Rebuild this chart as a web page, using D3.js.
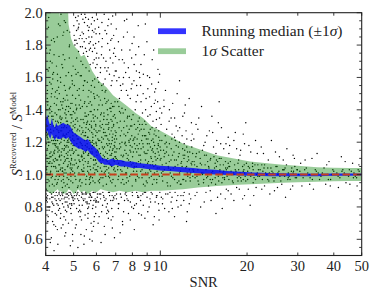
<!DOCTYPE html>
<html>
<head>
<meta charset="utf-8">
<script src="https://cdn.jsdelivr.net/npm/d3@7"></script>
<style>
  body { margin: 0; background: #fff; }
  svg { display: block; }
  text { font-family: "Liberation Serif", "DejaVu Serif", serif; fill: #222; }
</style>
</head>
<body>
<svg id="chart" width="374" height="295"></svg>
<script>
// ---- data ----
const xTicks = [4, 5, 6, 7, 8, 9, 10, 20, 30, 40, 50];
const yTicks = [0.6, 0.8, 1.0, 1.2, 1.4, 1.6, 1.8, 2.0];

// 1 sigma scatter band (green)
const bandSNR   = [4.0, 4.2, 4.4, 4.48, 4.52, 4.6, 4.74, 4.8, 4.9, 5.0, 5.1, 5.18, 5.3, 5.45, 5.6, 5.8, 6.0, 6.2, 6.5, 6.85, 7.2, 7.7, 8.2, 8.7, 9.3, 10, 11, 12, 13.5, 15.7, 18, 20.5, 23.5, 26.6, 30, 35, 40, 45, 50];
const bandHigh  = [2.30, 2.30, 2.25, 1.97, 2.20, 2.25, 2.30, 1.93, 1.84, 1.80, 1.78, 1.77, 1.73, 1.74, 1.70, 1.64, 1.60, 1.57, 1.54, 1.49, 1.46, 1.42, 1.38, 1.35, 1.30, 1.27, 1.23, 1.19, 1.16, 1.12, 1.10, 1.08, 1.07, 1.06, 1.055, 1.045, 1.042, 1.04, 1.04];
const bandLow   = [0.90, 0.88, 0.91, 0.89, 0.90, 0.88, 0.89, 0.91, 0.90, 0.88, 0.89, 0.91, 0.89, 0.90, 0.88, 0.90, 0.89, 0.91, 0.90, 0.89, 0.90, 0.89, 0.90, 0.89, 0.90, 0.90, 0.905, 0.91, 0.92, 0.93, 0.935, 0.94, 0.945, 0.95, 0.952, 0.955, 0.958, 0.96, 0.96];

// running median +- 1 sigma (blue)
const medSNR  = [4.0, 4.05, 4.1, 4.15, 4.2, 4.25, 4.3, 4.35, 4.4, 4.5, 4.6, 4.7, 4.8, 4.9, 5.0, 5.1, 5.2, 5.3, 5.4, 5.5, 5.6, 5.7, 5.8, 5.9, 6.0, 6.1, 6.2, 6.3, 6.4, 6.6, 6.8, 7.0, 7.3, 7.6, 8.0, 8.5, 9.0, 9.5, 10, 11, 12, 13, 14, 15.5, 17, 19, 21, 24, 27, 30, 35, 40, 45, 50];
const medLow  = [1.25, 1.27, 1.24, 1.22, 1.25, 1.23, 1.21, 1.23, 1.22, 1.22, 1.23, 1.22, 1.23, 1.20, 1.18, 1.17, 1.16, 1.16, 1.15, 1.14, 1.15, 1.13, 1.12, 1.11, 1.10, 1.08, 1.07, 1.07, 1.06, 1.06, 1.05, 1.06, 1.05, 1.05, 1.04, 1.04, 1.035, 1.03, 1.025, 1.02, 1.015, 1.01, 1.005, 1.0, 0.998, 0.995, 0.993, 0.99, 0.99, 0.99, 0.99, 0.992, 0.993, 0.994];
const medHigh = [1.34, 1.37, 1.33, 1.30, 1.35, 1.31, 1.29, 1.32, 1.30, 1.31, 1.32, 1.31, 1.31, 1.29, 1.26, 1.25, 1.24, 1.23, 1.22, 1.21, 1.22, 1.20, 1.18, 1.17, 1.16, 1.14, 1.12, 1.10, 1.10, 1.09, 1.10, 1.09, 1.09, 1.08, 1.08, 1.07, 1.065, 1.06, 1.055, 1.05, 1.045, 1.04, 1.035, 1.03, 1.022, 1.018, 1.013, 1.01, 1.008, 1.006, 1.005, 1.006, 1.006, 1.006];

const refLine = 1.0;

// individual sources: "SNR ratio" pairs (estimated from the cloud)
const sourcesRaw = `
4.03 1.12,4.07 1.45,4.11 0.96,4.02 1.78,4.15 1.31,4.19 1.05,4.23 1.62,4.05 1.23,4.28 0.93,4.31 1.38,4.09 1.91,4.35 1.17,4.38 1.52,4.14 1.08,4.42 1.27,4.46 0.99,4.21 1.69,4.49 1.36,4.53 1.14,4.26 1.84,4.57 1.02,4.61 1.47,4.33 1.21,4.64 1.95,4.68 1.09,4.72 1.33,4.40 1.58,4.75 0.94,4.79 1.26,4.83 1.72,4.47 1.11,4.87 1.41,4.91 1.03,4.55 1.29,4.95 1.56,4.98 1.18,4.60 0.97,4.01 1.34,4.13 1.57,4.24 1.19,4.36 1.43,4.44 1.06,4.58 1.66,4.66 1.24,4.77 1.12,4.85 1.88,4.93 1.37,4.04 1.01,4.17 1.26,4.29 1.82,4.39 0.95,4.51 1.32,4.63 1.15,4.74 1.49,4.88 1.07,4.96 1.22,4.08 1.64,4.20 1.39,4.32 1.10,4.45 1.73,4.56 1.00,4.69 1.40,4.81 1.20,4.92 1.61,4.06 1.28,4.18 0.98,4.30 1.48,4.41 1.16,4.52 1.99,4.65 1.30,4.76 1.05,4.89 1.44,4.99 1.13,4.10 1.20,4.22 1.53,4.34 1.04,4.48 1.35,4.59 1.86,4.70 1.17,4.82 0.92,4.94 1.28,4.12 1.75,4.25 1.09,4.37 1.30,4.50 1.60,4.62 0.99,4.73 1.25,4.86 1.54,4.97 1.06,4.16 1.42,4.27 1.14,4.43 1.93,4.54 1.22,4.67 1.46,4.78 1.10,4.90 1.32,4.02 0.91,4.13 1.07,4.24 1.36,4.36 1.67,4.47 1.19,4.58 1.02,4.71 1.37,4.84 1.80,4.95 1.16,4.07 1.25,4.19 1.50,4.31 0.97,4.43 1.23,4.55 1.43,4.66 1.08,4.80 1.63,4.91 1.27,4.04 1.40,4.15 1.70,4.28 1.13,4.40 1.33,4.52 1.04,4.64 1.55,4.77 1.21,4.89 0.96,4.99 1.39,
4.03 0.86,4.11 0.78,4.19 0.88,4.27 0.69,4.35 0.84,4.42 0.81,4.50 0.73,4.58 0.87,4.66 0.62,4.74 0.83,4.82 0.89,4.90 0.76,4.97 0.85,4.07 0.71,4.15 0.58,4.23 0.82,4.31 0.87,4.39 0.66,4.47 0.79,4.55 0.85,4.63 0.74,4.71 0.88,4.79 0.80,4.87 0.56,4.94 0.86,4.05 0.83,4.21 0.77,4.45 0.89,4.69 0.72,4.92 0.82,
5.02 1.14,5.05 1.38,5.09 0.97,5.12 1.72,5.15 1.22,5.19 1.05,5.22 1.49,5.25 1.30,5.29 0.93,5.32 1.61,5.35 1.11,5.39 1.27,5.42 1.02,5.45 1.44,5.49 1.18,5.52 1.66,5.55 0.99,5.59 1.33,5.62 1.08,5.65 1.52,5.69 1.21,5.72 0.95,5.75 1.39,5.79 1.13,5.82 1.58,5.85 1.04,5.89 1.28,5.92 1.47,5.95 1.09,5.98 1.20,5.03 1.55,5.07 1.25,5.11 1.07,5.14 1.35,5.18 1.63,5.21 1.12,5.24 0.96,5.28 1.41,5.31 1.19,5.34 1.29,5.38 1.68,5.41 1.06,5.44 1.24,5.48 1.36,5.51 0.94,5.54 1.15,5.58 1.57,5.61 1.23,5.64 1.01,5.68 1.31,5.71 1.45,5.74 1.10,5.78 1.26,5.81 0.98,5.84 1.37,5.88 1.17,5.91 1.54,5.94 1.03,5.97 1.30,5.04 1.01,5.08 1.47,5.13 1.19,5.17 1.28,5.20 1.76,5.26 1.08,5.30 1.34,5.36 1.16,5.40 1.52,5.46 1.00,5.50 1.26,5.56 1.42,5.60 1.12,5.66 1.64,5.70 1.05,5.76 1.33,5.80 1.20,5.86 1.09,5.90 1.40,5.96 1.24,5.06 1.31,5.16 0.92,5.27 1.20,5.37 1.09,5.47 1.58,5.57 1.17,5.67 0.97,5.77 1.29,5.87 1.50,5.99 1.07,5.10 1.62,5.23 1.43,5.33 1.03,5.43 1.32,5.53 1.21,5.63 1.37,5.73 1.14,5.83 1.23,5.93 0.95,
5.03 0.87,5.12 0.79,5.21 0.84,5.30 0.63,5.39 0.88,5.48 0.75,5.57 0.82,5.66 0.86,5.75 0.70,5.84 0.81,5.93 0.89,5.07 0.67,5.16 0.85,5.25 0.78,5.34 0.89,5.43 0.57,5.52 0.83,5.61 0.76,5.70 0.88,5.79 0.65,5.88 0.84,5.97 0.80,
5.02 1.86,5.08 1.97,5.14 1.81,5.22 1.93,5.28 1.79,5.35 1.88,5.41 1.75,5.47 1.99,5.53 1.84,5.60 1.73,5.66 1.91,5.72 1.78,5.78 1.85,5.84 1.69,5.90 1.95,5.96 1.66,5.18 1.90,5.44 1.82,5.63 1.96,5.81 1.76,5.88 1.88,5.99 1.72,
6.02 1.12,6.05 1.35,6.09 0.96,6.12 1.48,6.16 1.21,6.19 1.04,6.23 1.29,6.26 1.55,6.30 1.10,6.33 0.93,6.37 1.38,6.40 1.17,6.44 1.02,6.47 1.44,6.51 1.24,6.54 1.08,6.58 1.31,6.61 0.99,6.65 1.19,6.68 1.41,6.72 1.06,6.75 1.27,6.79 0.95,6.82 1.15,6.86 1.36,6.89 1.03,6.93 1.22,6.96 1.45,6.99 1.11,6.03 1.26,6.07 1.05,6.11 1.57,6.14 1.16,6.18 1.33,6.22 0.98,6.25 1.20,6.29 1.43,6.32 1.09,6.36 1.28,6.39 1.01,6.43 1.51,6.46 1.14,6.50 0.94,6.53 1.34,6.57 1.18,6.60 1.46,6.64 1.07,6.67 1.25,6.71 1.00,6.74 1.39,6.78 1.13,6.81 1.23,6.85 0.97,6.88 1.30,6.92 1.08,6.95 1.17,6.98 1.35,6.06 1.40,6.20 1.13,6.34 1.22,6.48 1.05,6.62 1.32,6.76 1.19,6.90 1.42,6.97 1.02,
6.04 0.86,6.13 0.74,6.21 0.88,6.30 0.81,6.39 0.68,6.48 0.85,6.57 0.78,6.66 0.89,6.75 0.72,6.84 0.84,6.93 0.61,6.10 0.83,6.35 0.87,6.61 0.77,6.88 0.86,
6.03 1.68,6.11 1.82,6.19 1.63,6.27 1.94,6.35 1.72,6.43 1.59,6.51 1.87,6.59 1.66,6.67 1.77,6.75 1.55,6.83 1.98,6.91 1.61,6.99 1.73,6.47 1.52,6.79 1.84,
7.03 1.10,7.08 1.32,7.13 0.97,7.18 1.42,7.23 1.19,7.28 1.03,7.33 1.27,7.38 1.08,7.43 1.38,7.48 0.94,7.53 1.15,7.58 1.24,7.63 1.01,7.68 1.35,7.73 1.12,7.78 1.21,7.83 0.99,7.88 1.30,7.93 1.06,7.98 1.17,8.04 1.37,8.10 1.04,8.16 1.23,8.22 0.96,8.28 1.14,8.34 1.29,8.40 1.08,8.46 1.19,7.05 1.22,7.11 1.45,7.16 1.07,7.21 1.16,7.26 1.33,7.31 0.95,7.36 1.20,7.41 1.11,7.46 1.29,7.51 1.05,7.56 1.40,7.61 1.13,7.66 0.98,7.71 1.26,7.76 1.09,7.81 1.36,7.86 1.18,7.91 1.00,7.96 1.24,8.01 1.11,8.07 1.02,8.13 1.31,8.19 1.16,8.25 1.07,8.31 1.22,8.37 1.33,8.43 0.98,
7.04 0.85,7.15 0.79,7.27 0.88,7.39 0.71,7.51 0.84,7.63 0.87,7.75 0.76,7.87 0.83,7.99 0.89,8.12 0.66,8.26 0.82,8.41 0.86,
7.06 1.58,7.19 1.71,7.32 1.52,7.45 1.85,7.58 1.63,7.71 1.49,7.84 1.77,7.97 1.56,8.11 1.68,8.24 1.45,8.38 1.92,8.48 1.60,
8.52 1.12,8.58 1.28,8.64 0.98,8.70 1.19,8.76 1.05,8.82 1.33,8.88 1.09,8.94 1.22,9.00 0.95,9.06 1.15,9.12 1.26,9.18 1.03,9.24 1.17,9.30 0.99,9.36 1.29,9.42 1.08,9.48 1.20,9.54 1.01,9.60 1.13,9.66 1.24,9.72 0.97,9.78 1.10,9.84 1.18,9.90 1.04,9.96 1.21,8.55 1.02,8.67 1.24,8.79 1.14,8.91 1.31,9.03 1.07,9.15 1.19,9.27 1.11,9.39 0.94,9.51 1.25,9.63 1.06,9.75 1.16,9.87 1.27,9.99 1.09,8.85 0.93,9.45 1.14,
8.54 0.84,8.69 0.88,8.84 0.73,8.99 0.86,9.14 0.80,9.29 0.89,9.44 0.69,9.59 0.83,9.74 0.87,9.89 0.78,
8.57 1.45,8.73 1.62,8.89 1.40,9.05 1.53,9.21 1.37,9.37 1.71,9.53 1.44,9.69 1.34,9.85 1.57,9.97 1.41,
10.05 1.10,10.12 1.21,10.19 0.96,10.26 1.15,10.33 1.03,10.40 1.24,10.47 1.07,10.54 1.17,10.61 0.93,10.68 1.12,10.75 1.19,10.82 1.01,10.89 1.09,10.96 1.22,11.05 0.98,11.15 1.14,11.25 1.05,11.35 1.18,11.45 0.95,11.55 1.11,11.65 1.20,11.75 1.02,11.85 1.08,11.95 1.16,12.05 0.97,12.15 1.12,12.25 1.04,12.35 1.17,12.45 0.99,12.55 1.09,12.65 1.14,12.75 1.01,12.85 1.06,12.95 1.13,10.09 1.01,10.37 1.13,10.65 1.05,10.93 0.99,11.20 1.23,11.50 1.06,11.80 0.94,12.10 1.19,12.40 1.08,12.70 0.96,12.98 1.03,
10.08 0.86,10.35 0.79,10.62 0.88,10.90 0.83,11.20 0.74,11.50 0.87,11.80 0.81,12.10 0.89,12.40 0.77,12.75 0.85,
10.11 1.38,10.42 1.52,10.73 1.33,11.04 1.44,11.35 1.30,11.66 1.58,11.97 1.36,12.28 1.27,12.59 1.47,12.90 1.25,
13.1 1.08,13.2 0.98,13.35 1.13,13.5 1.03,13.6 0.94,13.75 1.10,13.9 1.01,14.0 1.15,14.15 0.97,14.3 1.06,14.45 1.12,14.6 0.99,14.75 1.04,14.9 1.09,15.05 0.95,15.2 1.02,15.35 1.11,15.5 0.98,15.65 1.05,15.8 1.08,15.95 0.96,16.1 1.03,16.25 1.10,16.4 1.00,16.55 1.06,16.7 0.97,16.85 1.04,13.4 1.05,14.05 1.01,14.7 0.93,15.6 1.13,16.5 1.01,
13.2 0.87,13.8 0.80,14.4 0.89,15.0 0.84,15.6 0.76,16.2 0.88,16.8 0.85,
13.3 1.31,13.9 1.42,14.5 1.24,15.1 1.36,15.7 1.21,16.3 1.29,16.9 1.19,
17.1 1.04,17.3 0.97,17.5 1.08,17.7 1.00,17.9 0.95,18.1 1.06,18.3 1.02,18.5 0.98,18.7 1.09,18.9 1.01,19.1 0.96,19.3 1.05,19.5 1.03,19.7 0.99,19.9 1.07,20.1 0.97,20.4 1.04,20.7 1.01,21.0 0.95,21.3 1.06,21.6 1.00,21.9 1.03,17.6 1.02,18.6 0.96,19.6 1.01,20.9 1.07,
17.2 0.90,18.0 0.84,18.8 0.91,19.6 0.87,20.5 0.81,21.5 0.92,
17.4 1.18,18.2 1.26,19.0 1.15,19.8 1.32,20.6 1.14,21.4 1.21,
22.2 1.03,22.6 0.97,23.0 1.06,23.4 1.00,23.8 0.96,24.2 1.04,24.6 1.01,25.0 0.98,25.4 1.05,25.8 1.02,26.2 0.96,26.6 1.03,27.0 0.99,27.4 1.06,27.8 1.01,28.2 0.97,28.6 1.04,29.0 1.00,29.4 0.98,29.8 1.03,23.2 1.01,26.8 1.00,
22.5 0.91,24.0 0.88,25.5 0.92,27.2 0.86,28.8 0.93,
22.8 1.13,24.3 1.21,25.9 1.11,27.5 1.16,29.2 1.10,
30.5 1.02,31.3 0.98,32.1 1.04,32.9 1.00,33.7 0.97,34.5 1.03,35.3 1.01,36.1 0.99,37.0 1.04,38.0 1.00,39.0 0.97,40.0 1.02,41.0 1.01,42.0 0.98,43.0 1.03,44.0 1.00,45.0 0.99,46.0 1.02,47.0 1.01,48.0 0.98,49.0 1.02,36.5 1.01,
31.0 0.93,34.0 0.91,37.5 0.94,41.5 0.92,45.5 0.94,
31.8 1.09,35.0 1.13,38.5 1.08,42.5 1.11,46.5 1.07,
4.017 1.19,4.262 1.05,4.581 1.41,4.123 0.93,4.847 1.27,4.394 1.62,4.705 1.01,4.055 1.52,4.938 1.15,4.311 1.29,4.626 0.95,4.189 1.83,4.473 1.12,4.772 1.46,4.086 1.07,4.527 1.34,4.893 0.99,4.244 1.23,4.658 1.71,4.352 1.09,4.981 1.30,4.137 1.38,4.419 0.97,4.736 1.18,4.034 1.65,4.601 1.25,4.287 1.44,4.864 1.04,4.172 1.14,4.509 1.57,4.813 1.22,4.373 1.02,4.694 1.35,4.098 1.97,4.441 1.26,4.957 1.49,4.218 0.99,4.562 1.16,4.751 1.89,4.329 1.33,4.046 1.08,4.639 1.21,4.918 1.10,4.276 1.74,4.488 1.40,4.791 1.06,4.157 1.28,4.571 0.92,4.872 1.37,4.409 1.17,4.065 1.43,4.715 1.13,4.233 1.59,4.536 1.31,4.966 1.02,4.341 1.24,4.681 1.52,4.112 1.00,4.458 1.11,4.829 1.79,4.198 1.36,4.612 1.07,4.384 1.47,4.903 1.19,4.027 1.26,4.747 0.98,4.299 1.15,4.553 1.68,4.141 1.11,4.856 1.23,4.426 1.32,4.667 1.03,4.074 0.97,4.945 1.58,4.258 1.21,4.592 1.45,4.781 1.14,4.366 0.94,4.518 1.20,4.181 1.48,4.727 1.29,4.015 1.04,4.884 1.06,4.435 1.54,4.641 1.16,4.251 1.30,4.972 1.24,4.105 1.10,4.497 1.03,4.806 1.42,4.318 1.18,4.619 1.88,4.162 1.02,4.761 1.33,4.401 1.09,4.927 1.35,4.049 1.16,4.545 1.27,4.686 1.94,4.226 1.12,
4.021 0.84,4.143 0.89,4.267 0.81,4.388 0.87,4.512 0.76,4.634 0.85,4.759 0.88,4.881 0.79,4.977 0.86,4.082 0.74,4.205 0.83,4.329 0.68,4.451 0.88,4.573 0.82,4.695 0.64,4.818 0.85,4.939 0.72,4.061 0.87,4.184 0.61,4.308 0.85,4.432 0.78,4.553 0.89,4.676 0.83,4.799 0.70,4.921 0.87,4.117 0.80,4.238 0.86,4.364 0.75,4.487 0.84,4.609 0.89,4.731 0.77,4.852 0.82,4.965 0.59,4.041 0.78,4.276 0.53,4.528 0.67,4.775 0.81,4.893 0.88,4.352 0.89,4.667 0.86,
5.013 1.21,5.157 1.04,5.288 1.46,5.421 1.13,5.563 1.32,5.697 0.98,5.832 1.25,5.964 1.09,5.071 1.65,5.204 1.17,5.346 0.95,5.479 1.38,5.611 1.07,5.746 1.51,5.879 1.19,5.046 1.29,5.183 0.93,5.317 1.11,5.452 1.58,5.587 1.23,5.723 1.03,5.857 1.35,5.991 1.14,5.112 1.40,5.249 1.08,5.381 1.26,5.516 0.97,5.648 1.44,5.782 1.16,5.917 1.01,5.029 1.06,5.169 1.33,5.302 1.70,5.437 1.10,5.572 1.19,5.706 1.39,5.841 0.96,5.976 1.27,5.094 1.15,5.231 1.53,5.364 1.02,5.498 1.24,5.632 1.12,5.767 1.30,5.902 1.48,5.058 0.99,5.196 1.22,5.332 1.12,5.466 1.45,5.599 1.05,5.734 1.20,5.868 1.09,5.137 1.27,5.273 1.61,5.405 1.14,5.541 1.31,5.676 0.94,5.811 1.18,5.944 1.36,5.084 1.43,5.218 1.01,5.356 1.18,5.489 1.08,5.624 1.28,5.758 1.55,5.893 1.11,5.122 1.24,5.393 1.34,5.663 1.16,5.931 1.06,
5.018 0.82,5.142 0.88,5.265 0.74,5.389 0.85,5.512 0.89,5.636 0.80,5.759 0.86,5.883 0.71,5.988 0.84,5.077 0.89,5.201 0.77,5.324 0.86,5.447 0.62,5.571 0.83,5.694 0.88,5.817 0.79,5.941 0.85,5.104 0.69,5.228 0.87,5.357 0.81,5.483 0.88,5.606 0.73,5.731 0.84,5.856 0.89,5.965 0.76,5.174 0.55,5.532 0.66,5.802 0.59,
5.008 1.92,5.097 1.83,5.186 1.98,5.274 1.86,5.363 1.79,5.452 1.94,5.541 1.76,5.629 1.89,5.718 1.82,5.807 1.97,5.896 1.71,5.984 1.87,5.052 1.80,5.141 1.95,5.229 1.84,5.318 1.99,5.407 1.87,5.496 1.78,5.585 1.92,5.673 1.77,5.762 1.93,5.851 1.80,5.939 1.90,5.119 1.89,5.385 1.96,5.651 1.85,5.918 1.78,5.707 1.68,
6.014 1.18,6.122 1.43,6.237 1.07,6.351 1.26,6.465 0.99,6.578 1.37,6.692 1.12,6.806 1.21,6.919 1.04,6.057 1.02,6.171 1.30,6.284 1.52,6.398 1.11,6.512 1.19,6.625 1.01,6.739 1.34,6.853 1.16,6.967 1.27,6.035 1.49,6.148 0.95,6.262 1.23,6.375 1.36,6.489 1.09,6.603 1.28,6.716 0.96,6.83 1.42,6.944 1.14,6.091 1.14,6.205 1.37,6.318 0.98,6.432 1.24,6.546 1.40,6.659 1.15,6.773 1.05,6.887 1.31,6.981 0.93,6.068 1.22,6.182 1.09,6.295 1.31,6.409 1.47,6.523 1.03,6.636 1.21,6.75 1.44,6.864 1.10,6.955 1.20,6.109 1.27,6.341 1.16,6.571 1.10,6.798 1.29,6.933 1.37,
6.022 0.83,6.139 0.88,6.256 0.77,6.373 0.86,6.491 0.80,6.608 0.89,6.725 0.84,6.842 0.74,6.959 0.87,6.081 0.70,6.198 0.85,6.315 0.89,6.432 0.63,6.549 0.82,6.667 0.87,6.784 0.79,6.901 0.85,6.226 0.58,6.517 0.76,6.813 0.67,
6.018 1.75,6.109 1.91,6.201 1.66,6.292 1.84,6.384 1.99,6.475 1.70,6.566 1.81,6.658 1.62,6.749 1.93,6.841 1.69,6.932 1.78,6.064 1.60,6.155 1.87,6.246 1.74,6.338 1.56,6.429 1.89,6.521 1.64,6.612 1.96,6.703 1.72,6.795 1.58,6.886 1.86,6.977 1.64,
7.021 1.26,7.117 1.05,7.214 1.39,7.311 1.12,7.408 0.97,7.505 1.33,7.602 1.18,7.699 1.04,7.796 1.28,7.893 1.14,7.989 0.93,8.086 1.22,8.183 1.40,8.28 1.02,8.377 1.16,8.474 1.27,7.069 1.16,7.166 0.99,7.263 1.24,7.36 1.41,7.457 1.08,7.554 1.20,7.651 1.30,7.748 0.96,7.845 1.15,7.942 1.34,8.038 1.07,8.135 1.19,8.232 1.28,8.329 0.99,8.426 1.12,7.093 1.09,7.287 1.17,7.481 1.25,7.675 1.10,7.869 1.22,8.062 1.14,8.256 1.05,8.451 1.35,7.578 1.01,
7.045 0.88,7.182 0.82,7.319 0.86,7.456 0.77,7.593 0.89,7.73 0.84,7.867 0.72,8.004 0.87,8.141 0.81,8.278 0.89,8.415 0.76,7.25 0.64,7.661 0.85,8.07 0.79,8.34 0.87,
7.033 1.64,7.152 1.82,7.27 1.55,7.388 1.71,7.507 1.95,7.625 1.52,7.743 1.66,7.862 1.47,7.98 1.81,8.098 1.58,8.217 1.74,8.335 1.49,8.454 1.63,7.211 1.47,7.447 1.60,7.684 1.88,7.921 1.53,8.276 1.55,
8.531 1.07,8.612 1.21,8.694 1.00,8.775 1.28,8.857 1.13,8.938 0.96,9.02 1.19,9.101 1.08,9.183 1.25,9.264 1.02,9.346 1.15,9.427 1.22,9.509 0.97,9.59 1.11,9.672 1.29,9.753 1.04,9.835 1.14,9.916 0.99,9.981 1.17,8.572 1.16,8.735 0.94,8.898 1.24,9.061 1.01,9.224 1.28,9.387 1.06,9.55 1.18,9.713 0.95,9.876 1.23,8.653 1.31,9.305 1.10,
8.563 0.87,8.724 0.81,8.886 0.89,9.047 0.77,9.209 0.85,9.37 0.88,9.532 0.74,9.693 0.86,9.855 0.82,9.96 0.89,
8.541 1.55,8.668 1.38,8.795 1.74,8.922 1.47,9.049 1.36,9.176 1.60,9.303 1.42,9.43 1.33,9.557 1.51,9.684 1.39,9.811 1.65,9.938 1.35,8.984 1.82,9.615 1.46,
10.03 1.15,10.21 1.02,10.38 1.19,10.56 0.95,10.74 1.08,10.91 1.16,11.09 1.04,11.27 1.21,11.44 1.00,11.62 1.13,11.8 1.07,11.97 0.97,12.15 1.15,12.33 1.05,12.5 1.11,12.68 0.98,12.86 1.17,10.14 0.99,10.31 1.11,10.49 1.20,10.67 1.04,10.84 0.93,11.02 1.12,11.2 0.97,11.37 1.09,11.55 1.17,11.73 0.94,11.9 1.05,12.08 1.10,12.26 0.96,12.43 1.14,12.61 1.03,12.79 1.07,12.96 0.99,11.66 1.01,
10.17 0.82,10.44 0.88,10.71 0.77,10.98 0.86,11.25 0.89,11.52 0.80,11.79 0.87,12.06 0.84,12.33 0.71,12.6 0.88,
10.06 1.31,10.29 1.46,10.52 1.28,10.75 1.40,10.98 1.25,11.21 1.35,11.44 1.50,11.67 1.29,11.9 1.24,12.13 1.38,12.36 1.22,12.82 1.32,
13.05 1.02,13.28 1.11,13.52 0.96,13.76 1.07,14.01 1.00,14.24 1.12,14.48 0.98,14.71 1.05,14.95 1.10,15.18 0.97,15.42 1.04,15.66 1.09,15.89 0.99,16.13 1.06,16.36 0.95,16.6 1.02,16.83 1.08,13.15 1.06,13.64 1.14,14.12 0.95,14.6 1.08,15.07 1.01,15.55 0.94,16.02 1.10,16.48 0.98,16.95 1.03,
13.4 0.89,14.2 0.83,14.9 0.90,15.8 0.86,16.4 0.79,16.95 0.91,
13.07 1.22,13.6 1.35,14.15 1.18,14.8 1.27,15.3 1.17,15.9 1.32,16.6 1.16,16.0 1.45,
17.05 0.99,17.4 1.05,17.8 0.96,18.2 1.03,18.6 1.07,19.0 0.98,19.4 1.02,19.8 0.96,20.2 1.05,20.6 0.99,21.0 1.03,21.4 0.97,21.8 1.06,17.2 1.07,17.95 1.01,18.75 0.99,19.55 1.06,20.35 1.00,21.15 0.98,21.7 1.01,
17.6 0.88,18.4 0.92,19.3 0.85,20.2 0.91,21.1 0.87,
17.3 1.13,18.0 1.21,18.9 1.12,19.4 1.25,20.3 1.18,21.7 1.13,
22.1 0.99,22.9 1.04,23.6 0.97,24.4 1.02,25.2 1.05,26.0 0.99,26.9 1.03,27.7 0.97,28.5 1.02,29.3 1.05,22.5 1.06,23.9 1.01,24.8 0.96,25.6 1.00,27.1 1.04,28.0 0.99,29.0 1.02,29.7 0.98,
23.0 0.93,24.9 0.90,26.4 0.94,28.3 0.91,
22.4 1.17,23.7 1.09,25.1 1.14,26.7 1.09,28.9 1.12,
30.2 1.00,31.7 1.03,33.1 0.98,34.8 1.02,36.4 1.00,38.3 0.97,39.7 1.03,41.4 0.99,43.5 1.01,45.3 1.03,47.5 0.99,49.5 1.00,32.5 1.01,35.7 0.97,39.3 1.00,42.7 1.02,46.8 0.98,48.6 1.03,
33.0 0.94,38.9 0.93,44.1 0.95,48.2 0.93,
30.7 1.07,33.6 1.10,37.8 1.06,43.8 1.08,48.9 1.06,
4.008 1.31,4.093 1.18,4.177 1.56,4.262 1.27,4.346 0.99,4.431 1.40,4.515 1.09,4.599 1.74,4.684 1.23,4.768 1.05,4.853 1.30,4.937 1.44,4.029 1.03,4.114 1.66,4.198 1.21,4.283 1.08,4.367 1.37,4.452 1.15,4.536 0.96,4.621 1.29,4.705 1.61,4.79 1.17,4.874 1.01,4.959 1.26,4.051 1.47,4.135 1.13,4.219 0.94,4.304 1.23,4.388 1.85,4.473 1.06,4.557 1.35,4.642 1.11,4.726 1.42,4.811 0.97,4.895 1.21,4.979 1.67,4.072 1.22,4.156 1.01,4.241 1.34,4.325 1.51,4.41 1.14,4.494 1.27,4.579 1.04,4.663 1.38,4.748 1.20,4.832 1.53,4.916 1.09,4.004 0.97,4.089 1.36,4.173 1.11,4.258 1.63,4.342 1.19,4.427 1.02,4.511 1.45,4.596 1.24,4.68 0.93,4.765 1.31,4.849 1.15,4.934 1.04,4.038 1.24,4.123 1.41,4.207 1.07,4.292 1.19,4.376 1.28,4.461 1.50,4.545 1.12,4.63 1.01,4.714 1.25,4.799 1.39,4.883 1.12,4.967 0.95,4.146 1.77,4.315 1.05,4.484 1.92,4.653 1.18,4.822 1.08,4.99 1.33,4.059 1.10,4.398 1.21,4.737 1.10,
4.012 0.88,4.134 0.85,4.256 0.89,4.378 0.82,4.5 0.87,4.622 0.80,4.744 0.86,4.866 0.89,4.988 0.84,5.11 0.87,5.232 0.81,5.354 0.88,5.476 0.85,5.598 0.79,5.72 0.87,5.842 0.89,5.964 0.83,4.073 0.80,4.195 0.86,4.317 0.76,4.439 0.85,4.561 0.88,4.683 0.78,4.805 0.87,4.927 0.81,5.049 0.85,5.171 0.89,5.293 0.77,5.415 0.84,5.537 0.88,5.659 0.82,5.781 0.86,5.903 0.74,4.226 0.71,4.592 0.69,4.957 0.63,5.323 0.72,5.689 0.60,4.409 0.57,5.86 0.68,
5.035 1.18,5.128 1.41,5.221 1.09,5.314 1.25,5.407 1.55,5.5 1.14,5.593 1.02,5.686 1.27,5.779 1.43,5.872 1.06,5.965 1.31,6.058 1.15,6.151 0.97,6.244 1.38,6.337 1.12,6.43 1.26,6.523 1.45,6.616 1.04,6.709 1.17,6.802 1.33,6.895 1.09,6.988 1.24,5.081 1.34,5.174 1.12,5.267 0.97,5.36 1.42,5.453 1.21,5.546 1.36,5.639 1.13,5.732 0.99,5.825 1.21,5.918 1.59,6.011 1.03,6.104 1.21,6.197 1.46,6.29 1.17,6.383 1.05,6.476 1.31,6.569 1.22,6.662 0.98,6.755 1.12,6.848 1.25,6.941 1.00,5.057 1.09,5.243 1.27,5.429 1.04,5.615 1.48,5.801 1.14,5.987 1.19,6.173 1.27,6.359 1.34,6.545 1.13,6.731 1.41,6.917 1.18,5.15 1.52,5.52 1.29,5.89 1.33,6.26 1.02,6.63 1.29,6.96 1.11,
5.045 1.83,5.198 1.91,5.351 1.84,5.504 1.97,5.657 1.81,5.81 1.89,5.963 1.81,6.116 1.72,6.269 1.79,6.422 1.66,6.575 1.92,6.728 1.83,6.881 1.75,7.034 1.90,7.187 1.60,7.34 1.77,7.493 1.69,7.646 1.96,7.799 1.60,7.952 1.72,8.105 1.85,8.258 1.64,8.411 1.79,8.564 1.68,8.717 1.50,8.87 1.93,9.023 1.61,9.176 1.48,9.329 1.56,9.482 1.77,9.635 1.53,9.788 1.45,9.941 1.62,6.05 1.96,7.41 1.56,
7.02 1.14,7.19 1.29,7.36 1.02,7.53 1.19,7.7 1.36,7.87 1.08,8.04 1.21,8.21 0.97,8.38 1.25,8.55 1.09,8.72 1.17,8.89 1.01,9.06 1.22,9.23 1.06,9.4 1.16,9.57 1.27,9.74 1.02,9.91 1.12,7.11 1.03,7.28 1.38,7.45 1.12,7.62 0.95,7.79 1.20,7.96 1.30,8.13 1.05,8.3 1.18,8.47 1.31,8.64 1.03,8.81 1.24,8.98 1.13,9.15 0.98,9.32 1.21,9.49 1.05,9.66 1.09,9.83 1.19,
6.05 0.88,6.42 0.84,6.8 0.87,7.15 0.82,7.55 0.88,7.95 0.80,8.35 0.86,8.8 0.89,9.25 0.83,9.7 0.87,10.2 0.85,10.8 0.89,11.4 0.84,12.0 0.87,6.6 0.73,7.4 0.69,8.6 0.75,9.9 0.72,11.0 0.79,12.6 0.82,
10.15 1.06,10.5 1.14,10.85 1.03,11.2 1.09,11.6 0.96,12.0 1.12,12.4 1.01,12.9 1.08,13.4 0.99,13.9 1.06,14.4 1.03,14.9 0.97,15.5 1.07,16.1 1.02,16.7 0.98,17.3 1.05,18.0 1.00,18.7 1.03,19.4 0.97,20.1 1.02,20.9 1.05,21.8 0.99,22.7 1.02,23.6 1.04,24.6 0.98,25.6 1.01,26.7 1.03,27.8 0.98,28.9 1.01,29.9 1.03,
10.3 1.42,10.9 1.35,11.5 1.27,12.2 1.43,12.8 1.21,13.5 1.28,14.3 1.20,15.2 1.26,16.2 1.19,17.2 1.23,18.4 1.16,19.6 1.19`;

const sources = sourcesRaw.trim().split(",").map(s => s.trim()).filter(s => s.length)
  .map(s => { const p = s.split(/\s+/); return { snr: +p[0], ratio: +p[1] }; });

// ---- layout ----
const plotL = 45.7, plotR = 361.7, plotT = 12.7, plotB = 255.5;

const svg = d3.select("#chart");

const x = d3.scaleLog().domain([4, 50]).range([plotL, plotR]);
const y = d3.scaleLinear().domain([0.5, 2.0]).range([plotB, plotT]);

svg.append("defs").append("clipPath").attr("id", "plotclip")
  .append("rect")
  .attr("x", plotL).attr("y", plotT)
  .attr("width", plotR - plotL).attr("height", plotB - plotT);

const plot = svg.append("g").attr("clip-path", "url(#plotclip)");

// scatter of sources
plot.append("g")
  .selectAll("circle")
  .data(sources)
  .enter()
  .append("circle")
  .attr("cx", d => x(d.snr))
  .attr("cy", d => y(d.ratio))
  .attr("r", 0.72)
  .attr("fill", "#000");

// 1 sigma scatter band
const band = bandSNR.map((s, i) => ({ snr: s, lo: bandLow[i], hi: bandHigh[i] }));
plot.append("path")
  .datum(band)
  .attr("d", d3.area().x(d => x(d.snr)).y0(d => y(d.lo)).y1(d => y(d.hi)))
  .attr("fill", "rgb(0,128,0)")
  .attr("fill-opacity", 0.4);

// running median band
const med = medSNR.map((s, i) => ({ snr: s, lo: medLow[i], hi: medHigh[i] }));
plot.append("path")
  .datum(med)
  .attr("d", d3.area().x(d => x(d.snr)).y0(d => y(d.lo)).y1(d => y(d.hi)))
  .attr("fill", "rgb(0,0,255)")
  .attr("fill-opacity", 0.8);

// reference line at ratio = 1
plot.append("line")
  .attr("x1", x(4)).attr("x2", x(50))
  .attr("y1", y(refLine)).attr("y2", y(refLine))
  .attr("stroke", "#c8401c")
  .attr("stroke-width", 2)
  .attr("stroke-dasharray", "7.4,3.2");

// ---- axes (ticks point inward on all sides) ----
const yMinor = d3.range(0.5, 2.001, 0.05).map(v => +v.toFixed(2));
const xMinorLen = 3, xMajorLen = 5, yMajorLen = 5, yMinorLen = 2.5;

function tickLenX(v) { return v === 10 ? xMajorLen : xMinorLen; }

const ticks = svg.append("g").attr("stroke", "#222").attr("stroke-width", 0.9);
xTicks.forEach(v => {
  ticks.append("line").attr("x1", x(v)).attr("x2", x(v)).attr("y1", plotB).attr("y2", plotB - tickLenX(v));
  ticks.append("line").attr("x1", x(v)).attr("x2", x(v)).attr("y1", plotT).attr("y2", plotT + tickLenX(v));
});
yMinor.forEach(v => {
  const major = yTicks.some(t => Math.abs(t - v) < 1e-6);
  const len = major ? yMajorLen : yMinorLen;
  ticks.append("line").attr("x1", plotL).attr("x2", plotL + len).attr("y1", y(v)).attr("y2", y(v));
  ticks.append("line").attr("x1", plotR).attr("x2", plotR - len).attr("y1", y(v)).attr("y2", y(v));
});

svg.append("rect")
  .attr("x", plotL).attr("y", plotT)
  .attr("width", plotR - plotL).attr("height", plotB - plotT)
  .attr("fill", "none").attr("stroke", "#222").attr("stroke-width", 1.1);

// tick labels
svg.append("g").selectAll("text")
  .data(xTicks).enter().append("text")
  .attr("x", d => x(d)).attr("y", plotB + 15)
  .attr("text-anchor", "middle")
  .attr("font-size", 14.5)
  .text(d => d);

svg.append("g").selectAll("text")
  .data(yTicks).enter().append("text")
  .attr("x", plotL - 3).attr("y", d => y(d) + 5)
  .attr("text-anchor", "end")
  .attr("font-size", 14.5)
  .text(d => d.toFixed(1));

// axis titles
svg.append("text")
  .attr("x", (plotL + plotR) / 2).attr("y", 287)
  .attr("text-anchor", "middle")
  .attr("font-size", 14.5)
  .text("SNR");

const yl = svg.append("text")
  .attr("transform", `translate(22, ${(plotT + plotB) / 2}) rotate(-90)`)
  .attr("text-anchor", "middle")
  .attr("font-size", 14.5);
yl.append("tspan").attr("font-style", "italic").text("S");
yl.append("tspan").attr("font-size", 8.5).attr("dy", -6).text("Recovered");
yl.append("tspan").attr("dy", 6).text(" / ");
yl.append("tspan").attr("font-style", "italic").text("S");
yl.append("tspan").attr("font-size", 8.5).attr("dy", -6).text("Model");

// ---- legend ----
const legend = svg.append("g");
legend.append("rect").attr("x", 158).attr("y", 28.3).attr("width", 28).attr("height", 5.8)
  .attr("fill", "rgb(0,0,255)").attr("fill-opacity", 0.8);
legend.append("rect").attr("x", 158).attr("y", 48.3).attr("width", 28).attr("height", 5.8)
  .attr("fill", "rgb(0,128,0)").attr("fill-opacity", 0.4);

const l1 = legend.append("text").attr("x", 201.5).attr("y", 35.8).attr("font-size", 15.5);
l1.append("tspan").text("Running median (\u00b11");
l1.append("tspan").attr("font-style", "italic").text("\u03c3");
l1.append("tspan").text(")");

const l2 = legend.append("text").attr("x", 201.5).attr("y", 55.8).attr("font-size", 15.5);
l2.append("tspan").text("1");
l2.append("tspan").attr("font-style", "italic").text("\u03c3");
l2.append("tspan").text(" Scatter");
</script>
</body>
</html>
